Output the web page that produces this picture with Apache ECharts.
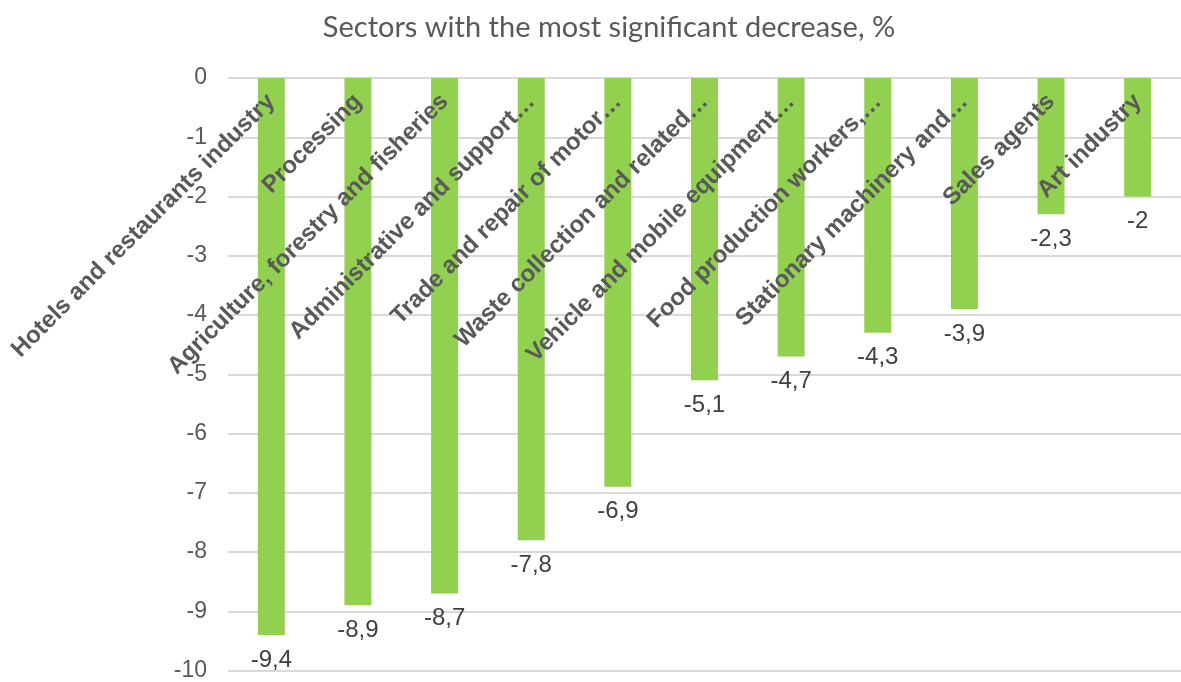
<!DOCTYPE html>
<html>
<head>
<meta charset="utf-8">
<script src="https://cdn.jsdelivr.net/npm/echarts@6/dist/echarts.min.js"></script>
<style>
  html, body { margin: 0; padding: 0; background: #fff; }
  #chart { width: 1181px; height: 682px; }
</style>
</head>
<body>
<div id="chart"></div>
<script>
// Sectors and their change, %
const sectors = [
  'Hotels and restaurants industry',
  'Processing',
  'Agriculture, forestry and fisheries',
  'Administrative and support…',
  'Trade and repair of motor…',
  'Waste collection and related…',
  'Vehicle and mobile equipment…',
  'Food production workers,…',
  'Stationary machinery and…',
  'Sales agents',
  'Art industry'
];
const decrease = [-9.4, -8.9, -8.7, -7.8, -6.9, -5.1, -4.7, -4.3, -3.9, -2.3, -2];
const titleText = 'Sectors with the most significant decrease, %';
const yMin = -10, yMax = 0, yStep = 1;

const sans = 'Arial, "Liberation Sans", sans-serif';

const chart = echarts.init(document.getElementById('chart'), null, { renderer: 'canvas' });

chart.setOption({
  animation: false,
  backgroundColor: '#ffffff',
  title: {
    text: titleText,
    left: 604,
    top: 8,
    textAlign: 'center',
    textStyle: {
      fontFamily: 'Lato',
      fontSize: 29,
      fontWeight: 'normal',
      color: '#595959'
    }
  },
  grid: {
    left: 228,
    top: 78,
    width: 955,
    height: 594,
    containLabel: false
  },
  xAxis: {
    type: 'category',
    position: 'top',
    data: sectors,
    axisLine: { show: false },
    axisTick: { show: false },
    axisLabel: {
      inside: true,
      rotate: 45,
      interval: 0,
      margin: 20,
      fontFamily: sans,
      fontSize: 24,
      fontWeight: 'bold',
      color: '#595959'
    },
    z: 10
  },
  yAxis: {
    type: 'value',
    min: yMin,
    max: yMax,
    interval: yStep,
    axisLine: { show: false },
    axisTick: { show: false },
    axisLabel: {
      margin: 21,
      fontFamily: sans,
      fontSize: 23,
      color: '#595959'
    },
    splitLine: { lineStyle: { color: '#d9d9d9', width: 2 } }
  },
  series: [{
    type: 'bar',
    data: decrease,
    barWidth: 27,
    itemStyle: { color: '#92d050' },
    label: {
      show: true,
      position: 'outside',
      distance: 13,
      fontFamily: sans,
      fontSize: 24,
      color: '#404040',
      formatter: p => String(p.value).replace('.', ',')
    },
    z: 2
  }]
});
</script>
</body>
</html>
